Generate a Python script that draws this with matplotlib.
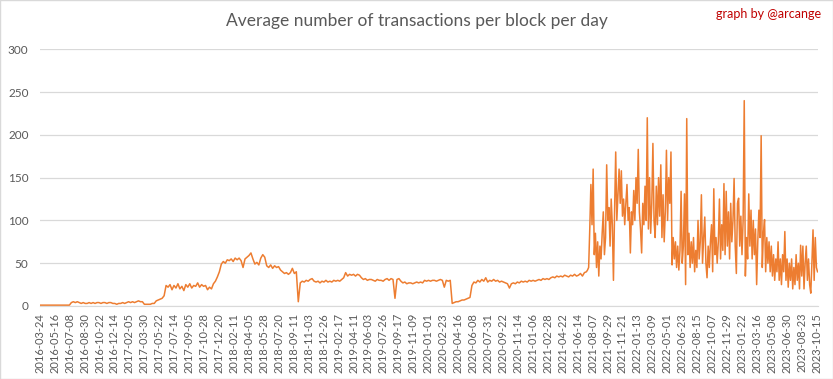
import matplotlib

matplotlib.use("Agg")
import matplotlib.pyplot as plt
import numpy as np
from matplotlib.patches import Rectangle

TITLE = "Average number of transactions per block per day"
CREDIT = "graph by @arcange"

# category axis, one category per day, a label every 53rd day
TICK_EVERY = 53
tick_labels = [
    "2016-03-24", "2016-05-16", "2016-07-08", "2016-08-30", "2016-10-22", "2016-12-14",
    "2017-02-05", "2017-03-30", "2017-05-22", "2017-07-14", "2017-09-05", "2017-10-28",
    "2017-12-20", "2018-02-11", "2018-04-05", "2018-05-28", "2018-07-20", "2018-09-11",
    "2018-11-03", "2018-12-26", "2019-02-17", "2019-04-11", "2019-06-03", "2019-07-26",
    "2019-09-17", "2019-11-09", "2020-01-01", "2020-02-23", "2020-04-16", "2020-06-08",
    "2020-07-31", "2020-09-22", "2020-11-14", "2021-01-06", "2021-02-28", "2021-04-22",
    "2021-06-14", "2021-08-07", "2021-09-29", "2021-11-21", "2022-01-13", "2022-03-09",
    "2022-05-01", "2022-06-23", "2022-08-15", "2022-10-07", "2022-11-29", "2023-01-22",
    "2023-03-16", "2023-05-08", "2023-06-30", "2023-08-23", "2023-10-15",
]

# weekly readings, 2016-03 .. 2018-02
early_values = [
    1, 1, 1, 1, 1, 1, 1, 1, 1, 1, 1, 1, 1, 1, 1, 1,
    4, 5, 4, 5, 4, 3, 4, 3, 3, 4, 3, 4, 3, 4, 4, 3, 4, 4, 3, 4,
    4, 3, 3, 2, 3, 3, 4, 3, 4, 5, 4, 5, 4, 5, 6, 5, 5,
    2, 2, 2, 2, 3, 3, 6, 7, 8, 9, 12,
    24, 22, 25, 19, 24, 21, 26, 20, 23, 18, 25, 22, 26, 21, 24, 23,
    27, 22, 25, 23, 24, 19, 22, 20,
    26, 29, 34, 40, 49, 52, 50, 54, 53, 55, 52, 56,
]

# weekly readings, 2018-02 .. 2020-01
mid_values = [
    54, 56, 53, 45, 55, 57, 59, 62, 55, 49,
    51, 48, 56, 60, 57, 47, 45, 48, 44, 47,
    45, 46, 42, 40, 38, 39, 37, 39, 44, 38,
    40, 5, 27, 29, 28, 30, 29, 31, 32, 29,
    28, 29, 27, 29, 28, 30, 28, 29, 28, 30,
    29, 30, 29, 31, 33, 39, 35, 37, 36, 37,
    35, 37, 36, 33, 31, 32, 30, 31, 31, 30,
    29, 31, 30, 30, 29, 31, 32, 30, 32, 31,
    9, 31, 32, 29, 27, 28, 26, 27, 27, 26,
    27, 28, 27, 28, 27, 30, 29, 30, 29, 30,
]

# weekly readings, 2020-01 .. 2021-07
late_values = [
    30, 29, 30, 31, 30, 22, 30, 29, 30, 3,
    4, 5, 5, 6, 7, 7, 8, 9, 10, 24,
    28, 27, 30, 28, 31, 29, 33, 28, 30, 29,
    31, 29, 30, 28, 29, 28, 27, 26, 21, 26,
    27, 26, 28, 27, 29, 28, 29, 28, 30, 29,
    30, 29, 30, 31, 30, 32, 31, 32, 31, 33,
    34, 33, 35, 34, 35, 34, 36, 35, 34, 36,
    35, 37, 35, 36, 38, 35, 39,
]
WEEK = 7

# every 4th day from 2021-08, the noisy part
busy_values_2021_2022 = [
    40, 42, 45, 90, 142, 95, 160, 60, 85, 45,
    75, 35, 70, 55, 85, 110, 60, 80, 165, 100,
    115, 70, 125, 95, 30, 110, 180, 100, 130, 160,
    120, 158, 105, 125, 95, 120, 142, 100, 115, 62,
    110, 95, 135, 100, 150, 120, 183, 110, 90, 62,
    120, 95, 140, 100, 220, 90, 150, 85, 120, 190,
    100, 80, 140, 95, 150, 105, 165, 80, 130, 75,
    110, 182, 100, 150, 120, 180, 48, 80, 55, 75,
    45, 70, 42, 65, 134, 50, 70, 131, 25, 219,
    60, 85, 45, 75, 50, 80, 40, 65, 45, 100,
]
busy_values_2022_2023 = [
    55, 75, 130, 50, 80, 104, 50, 33, 70, 45,
    75, 95, 40, 137, 60, 80, 50, 75, 125, 55,
    95, 65, 143, 60, 134, 70, 110, 55, 120, 75,
    100, 149, 70, 38, 120, 126, 70, 105, 60, 100,
    240, 35, 80, 55, 131, 70, 112, 55, 100, 60,
    90, 25, 75, 112, 80, 199, 45, 85, 101, 40,
    80, 50, 75, 40, 70, 35, 60, 30, 55, 40,
    75, 30, 55, 25, 60, 40, 87, 30, 55, 22,
    50, 30, 55, 20, 45, 25, 60, 30, 50, 20,
    71, 35, 70, 20, 50, 70, 30, 55, 25, 15,
    50, 89, 30, 80, 45, 40,
]
BUSY_STEP = 4

TEXT_GREY = "#595959"
GRID_GREY = "#D9D9D9"
LINE_ORANGE = "#ED7D31"
CREDIT_RED = "#C00000"


def build_series():
    """Stitch the segments onto one day-index axis."""
    xs, ys = [], []
    start = 0
    for values, step in [
        (early_values, WEEK),
        (mid_values, WEEK),
        (late_values, WEEK),
        (busy_values_2021_2022 + busy_values_2022_2023, BUSY_STEP),
    ]:
        xs.append(start + np.arange(len(values)) * step)
        ys.append(np.asarray(values, dtype=float))
        start += len(values) * step
    return np.concatenate(xs), np.concatenate(ys)


def main():
    plt.rcParams["font.family"] = ["Lato", "DejaVu Sans"]
    days, txs = build_series()
    n_days = days[-1] + 1

    fig = plt.figure(figsize=(8.33, 3.79), dpi=100)
    ax = fig.add_axes([39.66 / 833, 73 / 379, 778.3 / 833, 256.7 / 379])

    ax.plot(days, txs, color=LINE_ORANGE, linewidth=1.1)

    ax.set_xlim(-0.5, n_days + 0.5)
    ax.set_ylim(0, 300)
    ax.set_yticks(np.arange(0, 301, 50))
    ax.set_xticks(np.arange(len(tick_labels)) * TICK_EVERY)
    ax.set_xticklabels(tick_labels, rotation=90)

    ax.yaxis.grid(True, color=GRID_GREY, linewidth=0.9)
    ax.set_axisbelow(True)
    for side in ["top", "left", "right"]:
        ax.spines[side].set_visible(False)
    ax.spines["bottom"].set_color(GRID_GREY)
    ax.tick_params(axis="both", length=0, labelcolor=TEXT_GREY)
    ax.tick_params(axis="x", labelsize=8, pad=5)
    ax.tick_params(axis="y", labelsize=8.5, pad=8)

    fig.text(0.5, 1 - 26 / 379, TITLE, ha="center", va="baseline",
             fontsize=12.5, color=TEXT_GREY)
    fig.text(821.5 / 833, 1 - 18.5 / 379, CREDIT, ha="right", va="baseline",
             fontsize=9, color=CREDIT_RED)

    fig.patches.append(Rectangle((0.0006, 0.0013), 0.9988, 0.9974, transform=fig.transFigure,
                                 fill=False, edgecolor=GRID_GREY, linewidth=1))

    fig.savefig("out.png", dpi=100)
    plt.close(fig)


if __name__ == "__main__":
    main()
